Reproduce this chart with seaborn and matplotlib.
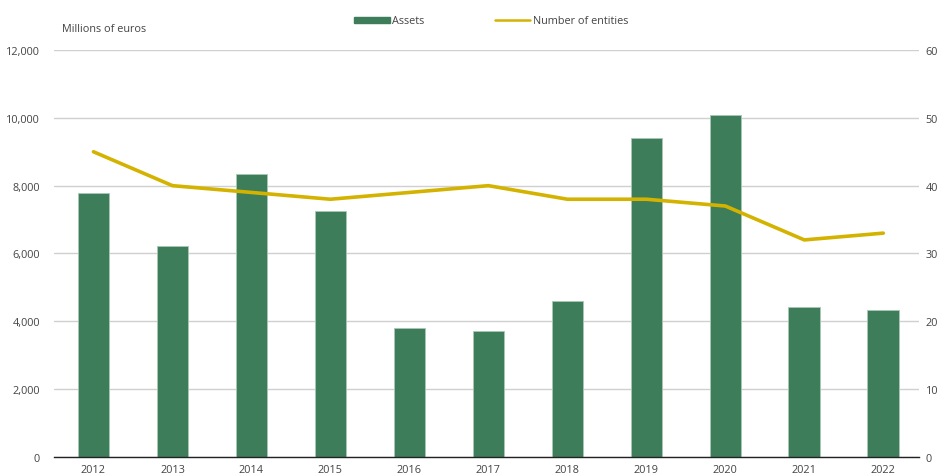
import matplotlib
matplotlib.use("Agg")
import matplotlib.pyplot as plt
import seaborn as sns
import pandas as pd
from matplotlib.patches import Patch
from matplotlib.lines import Line2D

years = ["2012", "2013", "2014", "2015", "2016", "2017", "2018", "2019", "2020", "2021", "2022"]
assets = [7770, 6220, 8330, 7250, 3810, 3700, 4590, 9410, 10080, 4430, 4320]
entities = [45, 40, 39, 38, 39, 40, 38, 38, 37, 32, 33]
left_ticks = [0, 2000, 4000, 6000, 8000, 10000, 12000]
right_ticks = [0, 10, 20, 30, 40, 50, 60]

bar_color = "#3d7d5a"
line_color = "#d4b300"
text_color = "#444444"
fs = 7.8

sns.set_theme(style="white")
plt.rcParams["font.family"] = ["Open Sans", "DejaVu Sans"]

df = pd.DataFrame({"year": years, "assets": assets, "entities": entities})

fig = plt.figure(figsize=(9.39, 4.77), dpi=100)
ax = fig.add_axes([0.0575, 0.040, 0.921, 0.853])

sns.barplot(data=df, x="year", y="assets", color=bar_color, width=0.4,
            saturation=1, edgecolor="#a9c7b5", linewidth=0.6, ax=ax, zorder=3)
ax.set_ylim(0, 12000)
ax.set_xlim(-0.5, 10.45)
ax.set_yticks(left_ticks)
ax.set_yticklabels([f"{v:,}" for v in left_ticks])
ax.yaxis.grid(True, color="#d0d0d0", linewidth=1.0, zorder=0)
ax.set_axisbelow(True)
for s in ["top", "right", "left"]:
    ax.spines[s].set_visible(False)
ax.spines["bottom"].set_color("#222222")
ax.spines["bottom"].set_linewidth(1.0)
ax.spines["bottom"].set_zorder(5)
ax.set_xlabel("")
ax.set_ylabel("")
ax.tick_params(axis="both", length=0, labelsize=fs, colors=text_color)
ax.tick_params(axis="y", pad=10)
ax.tick_params(axis="x", pad=5)

ax2 = ax.twinx()
sns.lineplot(data=df, x="year", y="entities", color=line_color, linewidth=2.6,
             ax=ax2, sort=False, zorder=4)
ax2.set_ylim(0, 60)
ax2.set_yticks(right_ticks)
ax2.set_yticklabels([str(v) for v in right_ticks])
ax2.set_ylabel("")
for s in ["top", "right", "left", "bottom"]:
    ax2.spines[s].set_visible(False)
ax2.tick_params(axis="y", length=0, labelsize=fs, colors=text_color, pad=5)
ax2.grid(False)

fig.text(62 / 939, 1 - 30 / 477, "Millions of euros", fontsize=fs, color=text_color,
         ha="left", va="center")

handles = [Patch(facecolor=bar_color, edgecolor=bar_color),
           Line2D([0], [0], color=line_color, linewidth=1.8)]
fig.legend(handles, ["Assets", "Number of entities"], loc="center",
           bbox_to_anchor=(491 / 939, 1 - 22 / 477), ncol=2, frameon=False,
           fontsize=fs, handlelength=3.3, handleheight=0.5, handletextpad=0.2,
           columnspacing=6.5, labelcolor=text_color)

fig.savefig("out.png", dpi=100)
